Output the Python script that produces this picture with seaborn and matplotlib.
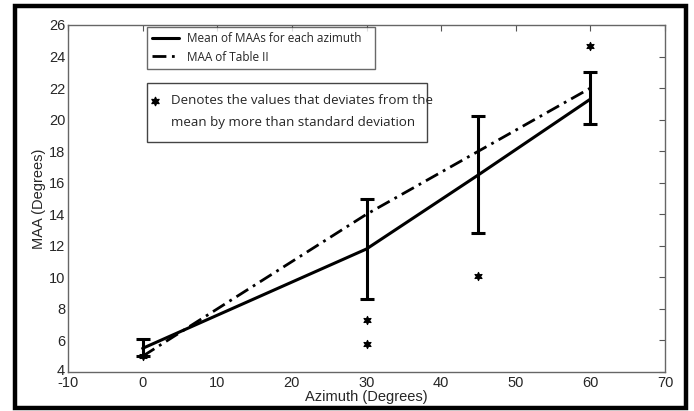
import matplotlib
matplotlib.use("Agg")
import matplotlib.pyplot as plt
import matplotlib.patches as mpatches
import matplotlib.transforms as mtransforms
import seaborn as sns
import pandas as pd

azimuth = [0, 30, 45, 60]
mean_maa = [5.5, 11.8, 16.5, 21.3]
table2_maa = [5.0, 14.0, 18.0, 22.0]
err_low = [5.0, 8.6, 12.8, 19.7]
err_high = [6.1, 15.0, 20.2, 23.0]
outlier_x = [0, 30, 30, 45, 60]
outlier_y = [5.0, 7.3, 5.8, 10.1, 24.7]
xticks = [-10, 0, 10, 20, 30, 40, 50, 60, 70]
yticks = [4, 6, 8, 10, 12, 14, 16, 18, 20, 22, 24, 26]

sns.set_style("white")
plt.rcParams['font.family'] = ['Liberation Sans', 'DejaVu Sans']
plt.rcParams['axes.unicode_minus'] = False

df = pd.DataFrame({"az": azimuth, "mean": mean_maa, "t2": table2_maa})
out_df = pd.DataFrame({"x": outlier_x, "y": outlier_y})

fig = plt.figure(figsize=(6.94, 4.11), dpi=100)
ax = fig.add_axes([68/694, 1-372/411, 597/694, 347/411])

sns.lineplot(data=df, x="az", y="mean", ax=ax, color="black", lw=2.2,
             label="Mean of MAAs for each azimuth")
sns.lineplot(data=df, x="az", y="t2", ax=ax, color="black", lw=2.0,
             linestyle=(0, (5, 2, 1, 2)), label="MAA of Table II")

yerr_lo = [m - l for m, l in zip(mean_maa, err_low)]
yerr_hi = [h - m for m, h in zip(mean_maa, err_high)]
ax.errorbar(azimuth, mean_maa, yerr=[yerr_lo, yerr_hi], fmt="none",
            ecolor="black", elinewidth=2.2, capsize=5, capthick=2.2)

sns.scatterplot(data=out_df, x="x", y="y", ax=ax, marker=(6, 1, 0), s=35,
                color="black", edgecolor="black", linewidth=0.8, legend=False)

ax.set_xlim(-10, 70)
ax.set_ylim(4, 26)
ax.set_xticks(xticks)
ax.set_yticks(yticks)
ax.tick_params(direction="in", length=4, top=True, right=True,
               labelsize=10.5, color="#555555", pad=2)
ax.tick_params(axis="x", labeltop=False, pad=3)
for s in ax.spines.values():
    s.set_color("#666666")
    s.set_linewidth(1.0)
ax.set_xlabel("Azimuth (Degrees)", fontsize=10.5, labelpad=0)
ax.set_ylabel("MAA (Degrees)", fontsize=10.5, labelpad=2)

# nudge the lowest y tick label up so it doesn't collide with "-10"
fig.canvas.draw()
ylabels = ax.get_yticklabels()
if ylabels:
    off = mtransforms.ScaledTranslation(0, 3/100, fig.dpi_scale_trans)
    ylabels[0].set_transform(ylabels[0].get_transform() + off)

lx0 = (147-68)/597
lx1 = (375-68)/597
ly0 = (372-70)/347
ly1 = (372-27)/347
leg = ax.legend(loc="upper left", bbox_to_anchor=(lx0, ly0, lx1-lx0, ly1-ly0),
                mode="expand", borderaxespad=0, frameon=True, fancybox=False,
                edgecolor="#444444", handlelength=2.3, handletextpad=0.6,
                prop={"family": ["Open Sans", "DejaVu Sans"], "size": 8.5},
                borderpad=0.45, labelspacing=0.45)
leg.get_frame().set_linewidth(1.0)

bx0 = (147-68)/597
bx1 = (427-68)/597
by0 = (372-142)/347
by1 = (372-83)/347
ax.add_patch(mpatches.Rectangle((bx0, by0), bx1-bx0, by1-by0, transform=ax.transAxes,
                                fill=True, facecolor="white", edgecolor="#444444",
                                lw=1.0, zorder=5))
ax.scatter([(155-68)/597], [(372-101)/347], transform=ax.transAxes, marker=(6, 1, 0),
           s=35, color="black", zorder=6)
ax.text((171-68)/597, (372-101)/347, "Denotes the values that deviates from the",
        transform=ax.transAxes, va="center", ha="left", fontsize=9.6,
        family=["Open Sans", "DejaVu Sans"], zorder=6)
ax.text((171-68)/597, (372-122)/347, "mean by more than standard deviation",
        transform=ax.transAxes, va="center", ha="left", fontsize=9.6,
        family=["Open Sans", "DejaVu Sans"], zorder=6)

fig.patches.append(mpatches.Rectangle((15/694, 1-408/411), (686-15)/694, (408-6.5)/411,
                                      transform=fig.transFigure, fill=False,
                                      edgecolor="black", lw=3.2))

fig.savefig("out.png", dpi=100)
